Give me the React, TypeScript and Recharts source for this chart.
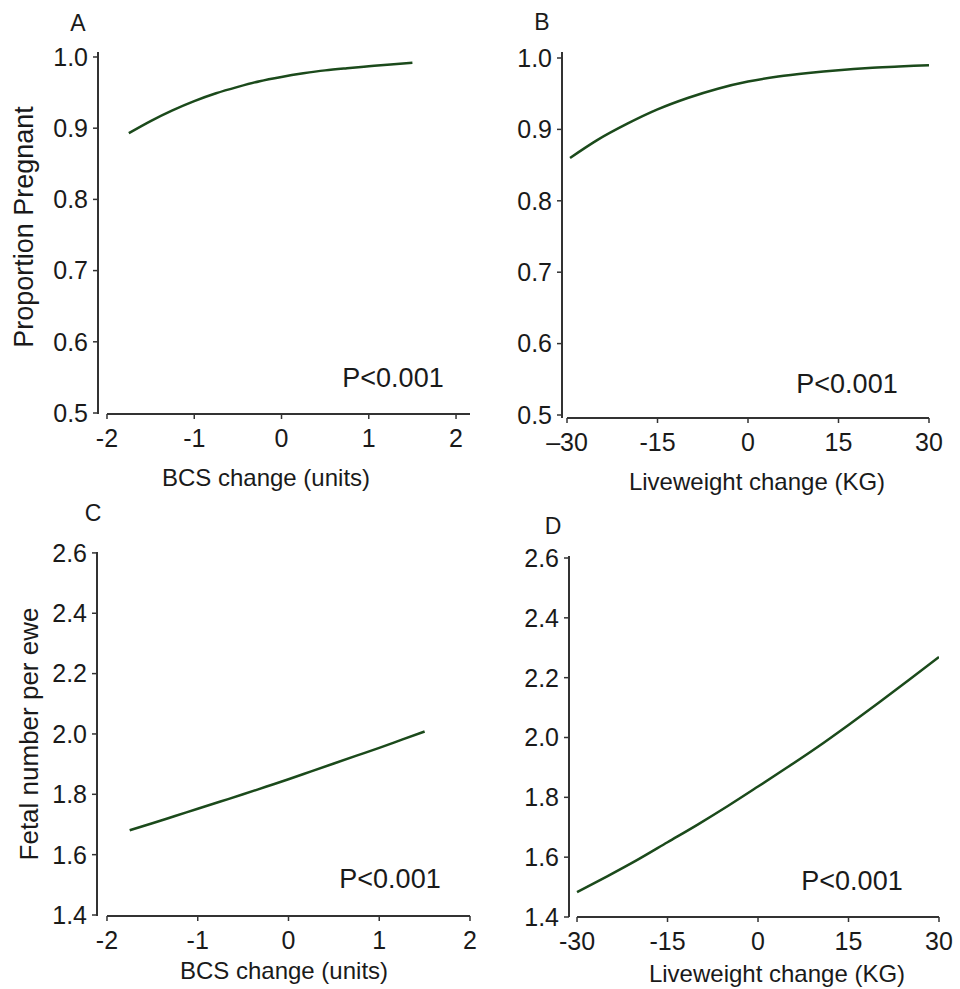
import { LineChart, Line, XAxis, YAxis, ReferenceLine } from 'recharts';

const FONT = '"Liberation Sans", Arial, Helvetica, sans-serif';
const AXIS = '#333333';
const CURVE = '#1b4a1b';

// Panel A: proportion pregnant vs BCS change
const bcsA = [-1.75, -1.5, -1.25, -1, -0.75, -0.5, -0.25, 0, 0.25, 0.5, 0.75, 1, 1.25, 1.5];
const pregA = [0.893, 0.91, 0.925, 0.938, 0.949, 0.958, 0.966, 0.972, 0.977, 0.9812, 0.9843, 0.987, 0.9896, 0.992];

// Panel B: proportion pregnant vs liveweight change
const lwB = [-29.5, -25, -20, -15, -10, -5, 0, 5, 10, 15, 20, 25, 30];
const pregB = [0.86, 0.885, 0.908, 0.928, 0.944, 0.957, 0.967, 0.974, 0.979, 0.983, 0.986, 0.988, 0.99];

// Panel C: fetal number vs BCS change
const bcsC = [-1.75, -1.5, -1.25, -1, -0.75, -0.5, -0.25, 0, 0.25, 0.5, 0.75, 1, 1.25, 1.5];
const fetalC = [1.681, 1.704, 1.728, 1.752, 1.776, 1.8, 1.825, 1.85, 1.876, 1.902, 1.928, 1.954, 1.981, 2.008];

// Panel D: fetal number vs liveweight change
const lwD = [-30, -25, -20, -15, -10, -5, 0, 5, 10, 15, 20, 25, 30];
const fetalD = [1.483, 1.536, 1.591, 1.65, 1.709, 1.771, 1.836, 1.902, 1.97, 2.042, 2.116, 2.192, 2.269];

const bcsTicks = [-2, -1, 0, 1, 2];
const lwTicks = [-30, -15, 0, 15, 30];
const pregTicks = [0.5, 0.6, 0.7, 0.8, 0.9, 1.0];
const fetalTicks = [1.4, 1.6, 1.8, 2.0, 2.2, 2.4, 2.6];

const zip = (xs: number[], ys: number[]) => xs.map((x, i) => ({ x, y: ys[i] }));

interface PanelProps {
  left: number;
  top: number;
  width: number;
  height: number;
  margin: { top: number; right: number; bottom: number; left: number };
  data: { x: number; y: number }[];
  xDomain: [number, number];
  yDomain: [number, number];
  xTicks: number[];
  yTicks: number[];
  xStart: number;
  xFormat?: (v: number) => string;
}

function Panel(p: PanelProps) {
  const tick = { fill: '#1a1a1a', fontSize: 25, fontFamily: FONT };
  return (
    <div style={{ position: 'absolute', left: p.left, top: p.top }}>
      <LineChart width={p.width} height={p.height} data={p.data} margin={p.margin}>
        <XAxis
          type="number"
          dataKey="x"
          domain={p.xDomain}
          allowDataOverflow
          ticks={p.xTicks}
          interval={0}
          axisLine={false}
          tickLine={{ stroke: AXIS, strokeWidth: 1.5 }}
          tickSize={5}
          tickMargin={10}
          tick={tick}
          height={66}
          tickFormatter={p.xFormat}
        />
        <YAxis
          type="number"
          domain={p.yDomain}
          allowDataOverflow
          ticks={p.yTicks}
          interval={0}
          axisLine={{ stroke: AXIS, strokeWidth: 2 }}
          tickLine={{ stroke: AXIS, strokeWidth: 1.5 }}
          tickSize={5}
          tickMargin={5}
          tick={tick}
          width={70}
          tickFormatter={(v: number) => v.toFixed(1)}
        />
        <ReferenceLine
          segment={[
            { x: p.xStart, y: p.yDomain[0] },
            { x: p.xDomain[1], y: p.yDomain[0] },
          ]}
          stroke={AXIS}
          strokeWidth={2}
          ifOverflow="visible"
        />
        <Line
          type="monotone"
          dataKey="y"
          stroke={CURVE}
          strokeWidth={2.5}
          dot={false}
          isAnimationActive={false}
        />
      </LineChart>
    </div>
  );
}

export default function App() {
  return (
    <div style={{ position: 'absolute', left: 0, top: 0, width: 960, height: 989, background: '#fff' }}>
      <Panel
        left={0}
        top={0}
        width={480}
        height={490}
        margin={{ top: 52, right: 10, bottom: 10, left: 28 }}
        data={zip(bcsA, pregA)}
        xDomain={[-2.103, 2.16]}
        yDomain={[0.4986, 1.007]}
        xTicks={bcsTicks}
        yTicks={pregTicks}
        xStart={-2}
      />
      <Panel
        left={480}
        top={0}
        width={480}
        height={490}
        margin={{ top: 52, right: 31, bottom: 6, left: 12 }}
        data={zip(lwB, pregB)}
        xDomain={[-30.83, 30]}
        yDomain={[0.4958, 1.0084]}
        xTicks={lwTicks}
        yTicks={pregTicks}
        xStart={-30}
        xFormat={(v: number) => (v === -30 ? '\u201330' : String(v))}
      />
      <Panel
        left={0}
        top={490}
        width={480}
        height={499}
        margin={{ top: 62, right: 10, bottom: 7, left: 27 }}
        data={zip(bcsC, fetalC)}
        xDomain={[-2.11, 2]}
        yDomain={[1.3967, 2.603]}
        xTicks={bcsTicks}
        yTicks={fetalTicks}
        xStart={-2}
      />
      <Panel
        left={480}
        top={490}
        width={480}
        height={499}
        margin={{ top: 66, right: 21, bottom: 6, left: 19 }}
        data={zip(lwD, fetalD)}
        xDomain={[-31.33, 30]}
        yDomain={[1.4, 2.6067]}
        xTicks={lwTicks}
        yTicks={fetalTicks}
        xStart={-30}
      />
      <svg
        width={960}
        height={989}
        style={{ position: 'absolute', left: 0, top: 0, pointerEvents: 'none' }}
      >
        <g textAnchor="middle" fontFamily={FONT} fill="#1a1a1a">
          <text x={78} y={31} style={{ fontSize: 23 }}>A</text>
          <text x={542} y={30} style={{ fontSize: 23 }}>B</text>
          <text x={93} y={521} style={{ fontSize: 23 }}>C</text>
          <text x={553} y={534} style={{ fontSize: 23 }}>D</text>

          <text x={266} y={486} style={{ fontSize: 24 }}>BCS change (units)</text>
          <text x={757} y={490} style={{ fontSize: 24 }}>Liveweight change (KG)</text>
          <text x={284} y={979} style={{ fontSize: 24 }}>BCS change (units)</text>
          <text x={777} y={982} style={{ fontSize: 24 }}>Liveweight change (KG)</text>

          <text x={33} y={227} transform="rotate(-90 33 227)" style={{ fontSize: 27 }}>Proportion Pregnant</text>
          <text x={38} y={734} transform="rotate(-90 38 734)" style={{ fontSize: 26 }}>Fetal number per ewe</text>

          <text x={393} y={387} style={{ fontSize: 27 }}>P&lt;0.001</text>
          <text x={847} y={393} style={{ fontSize: 27 }}>P&lt;0.001</text>
          <text x={390} y={888} style={{ fontSize: 27 }}>P&lt;0.001</text>
          <text x={852} y={890} style={{ fontSize: 27 }}>P&lt;0.001</text>
        </g>
      </svg>
    </div>
  );
}
